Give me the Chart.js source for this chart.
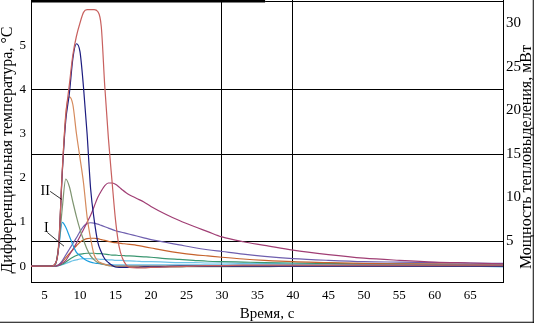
<!DOCTYPE html>
<html lang="ru">
<head>
<meta charset="UTF-8">
<title>Дифференциальная температура и мощность тепловыделения</title>
<script src="https://cdn.jsdelivr.net/npm/chart.js"></script>
<style>
  body { margin: 0; background: #fff; }
  canvas { display: block; }
</style>
</head>
<body>
<canvas id="thermo" width="534" height="323"></canvas>
<script>
// время, с
const time = [3.1, 5, 6, 6.5, 7, 7.5, 8, 8.5, 9, 9.5, 10, 10.5, 11, 11.5, 12, 12.5, 13, 13.5, 14, 14.5,
  15, 15.5, 16, 16.5, 17, 18, 19, 20, 22, 24, 26, 28, 30, 33, 36, 40, 45, 50, 55, 60, 65, 69.6];

// узкие пики дифференциальной температуры, °C
const peakRed = [0, 0, 0, 0.05, 0.45, 2.15, 3.4, 4.1, 4.78, 5.2, 5.5, 5.74, 5.8, 5.8, 5.8, 5.76, 5.42, 4.05, 2.9, 1.95,
  1.05, 0.45, 0.17, 0.03, -0.03, -0.04, -0.04, -0.03, -0.02, -0.01, 0, 0.01, 0.01, 0.02, 0.02, 0.02, 0.02, 0.02, 0.02, 0.02, 0.02, 0.02];
const peakNavy = [0, 0, 0, 0.05, 0.45, 2.1, 3.3, 3.9, 4.7, 5.03, 4.85, 4.04, 3.0, 1.75, 1.05, 0.55, 0.32, 0.16, 0.08, 0.02,
  -0.02, -0.03, -0.03, -0.03, -0.03, -0.03, -0.02, -0.02, -0.01, 0, 0, 0, 0, 0, 0, 0, 0, 0, 0, 0, 0, 0];
const peakTan = [0, 0, 0, 0.04, 0.5, 2.1, 3.45, 3.83, 3.65, 3.0, 2.45, 1.88, 1.12, 0.62, 0.25, 0.12, 0.07, 0.04, 0.02, 0.01,
  0, 0, 0, 0, 0, 0, 0, 0, 0, 0, 0, 0, 0, 0, 0, 0, 0, 0, 0, 0, 0, 0];
const peakOlive = [0, 0, 0, 0.02, 0.45, 1.3, 1.97, 1.8, 1.45, 1.12, 0.83, 0.59, 0.38, 0.23, 0.14, 0.08, 0.05, 0.03, 0.01, 0,
  -0.01, -0.01, -0.02, -0.02, -0.02, -0.02, -0.02, -0.02, -0.02, -0.02, -0.01, -0.01, -0.01, -0.01, -0.01, 0, 0, 0, 0, 0, 0, 0];
const peakCyan = [0, 0, 0, 0.02, 0.42, 0.99, 0.88, 0.68, 0.48, 0.31, 0.24, 0.17, 0.12, 0.09, 0.07, 0.06, 0.05, 0.04, 0.03, 0.03,
  0.02, 0.02, 0.02, 0.02, 0.02, 0.02, 0.02, 0.02, 0.02, 0.02, 0.02, 0.02, 0.02, 0.02, 0.02, 0.02, 0.02, 0.02, 0.02, 0.02, 0.02, 0.02];

// широкие кривые тепловыделения
const wavePlum = [0, 0, 0, 0, 0.02, 0.07, 0.13, 0.25, 0.38, 0.52, 0.67, 0.83, 0.99, 1.15, 1.35, 1.55, 1.7, 1.82, 1.88, 1.88,
  1.85, 1.79, 1.72, 1.66, 1.61, 1.53, 1.45, 1.35, 1.18, 1.03, 0.9, 0.78, 0.66, 0.55, 0.47, 0.36, 0.26, 0.18, 0.13, 0.09, 0.07, 0.05];
const waveSlate = [0, 0, 0, 0, 0.03, 0.12, 0.25, 0.38, 0.51, 0.64, 0.78, 0.9, 0.96, 0.98, 0.97, 0.95, 0.92, 0.89, 0.86, 0.83,
  0.8, 0.78, 0.76, 0.74, 0.72, 0.68, 0.64, 0.6, 0.54, 0.48, 0.42, 0.37, 0.33, 0.27, 0.22, 0.17, 0.13, 0.1, 0.09, 0.08, 0.07, 0.06];
const waveRust = [0, 0, 0, 0, 0.03, 0.1, 0.19, 0.28, 0.37, 0.46, 0.54, 0.59, 0.62, 0.63, 0.63, 0.62, 0.6, 0.58, 0.56, 0.54,
  0.53, 0.52, 0.51, 0.5, 0.49, 0.47, 0.44, 0.41, 0.35, 0.3, 0.26, 0.23, 0.2, 0.16, 0.13, 0.1, 0.08, 0.06, 0.05, 0.05, 0.04, 0.04];
const waveTeal = [0, 0, 0, 0, 0.01, 0.04, 0.09, 0.15, 0.2, 0.24, 0.27, 0.28, 0.29, 0.29, 0.29, 0.28, 0.28, 0.27, 0.26, 0.25,
  0.25, 0.24, 0.24, 0.23, 0.23, 0.22, 0.21, 0.2, 0.17, 0.15, 0.13, 0.11, 0.1, 0.09, 0.08, 0.07, 0.06, 0.05, 0.05, 0.04, 0.04, 0.03];
const waveSky = [0, 0, 0, 0, 0.01, 0.03, 0.06, 0.09, 0.12, 0.14, 0.16, 0.17, 0.17, 0.17, 0.16, 0.16, 0.15, 0.15, 0.14, 0.14,
  0.13, 0.13, 0.13, 0.12, 0.12, 0.11, 0.1, 0.1, 0.09, 0.08, 0.08, 0.07, 0.07, 0.06, 0.06, 0.05, 0.05, 0.04, 0.04, 0.03, 0, -0.02];

// подписи осей
const timeTicks = [5, 10, 15, 20, 25, 30, 35, 40, 45, 50, 55, 60, 65];
const tempTicks = [0, 1, 2, 3, 4, 5];
const powerTicks = [5, 10, 15, 20, 25, 30];

const series = [
  [peakRed, '#c8605e'],
  [peakNavy, '#1c1c80'],
  [peakTan, '#d58a5c'],
  [peakOlive, '#7e9470'],
  [peakCyan, '#1c9fe0'],
  [wavePlum, '#a03e74'],
  [waveSlate, '#6e5eae'],
  [waveRust, '#c6622c'],
  [waveTeal, '#3a9670'],
  [waveSky, '#6cc2e6']
];

const serif = 'Liberation Serif';

// рамка, заголовки осей Y и метки I, II
const decor = {
  id: 'decor',
  afterDatasetsDraw(chart) {
    const { ctx, chartArea: a, scales } = chart;
    const x = scales.x, y = scales.y;
    ctx.save();
    ctx.strokeStyle = '#000';
    ctx.lineWidth = 2.5;
    ctx.beginPath();
    ctx.moveTo(a.left, 1.25);
    ctx.lineTo(a.left + a.width * 0.496, 1.25);
    ctx.stroke();
    ctx.lineWidth = 1;
    ctx.beginPath();
    ctx.moveTo(a.left + a.width * 0.496, 1.5);
    ctx.lineTo(a.right, 1.5);
    ctx.moveTo(chart.width - 0.75, 0);
    ctx.lineTo(chart.width - 0.75, chart.height);
    ctx.moveTo(0, chart.height - 0.75);
    ctx.lineTo(chart.width, chart.height - 0.75);
    ctx.stroke();

    ctx.fillStyle = '#000';
    ctx.textAlign = 'center';
    ctx.textBaseline = 'middle';
    ctx.font = '16px "' + serif + '"';
    ctx.save();
    ctx.translate(8, 150);
    ctx.rotate(-Math.PI / 2);
    ctx.fillText('Дифференциальная температура, °С', 0, 0);
    ctx.restore();
    ctx.save();
    ctx.translate(527, 157);
    ctx.rotate(-Math.PI / 2);
    ctx.fillText('Мощность тепловыделения, мВт', 0, 0);
    ctx.restore();

    ctx.font = '14px "' + serif + '"';
    ctx.fillText('II', x.getPixelForValue(5.1), y.getPixelForValue(1.7));
    ctx.fillText('I', x.getPixelForValue(5.25), y.getPixelForValue(0.86));
    ctx.lineWidth = 0.8;
    ctx.beginPath();
    ctx.moveTo(x.getPixelForValue(5.8), y.getPixelForValue(1.69));
    ctx.lineTo(x.getPixelForValue(7.42), y.getPixelForValue(1.51));
    ctx.moveTo(x.getPixelForValue(5.4), y.getPixelForValue(0.76));
    ctx.lineTo(x.getPixelForValue(7.75), y.getPixelForValue(0.45));
    ctx.stroke();
    ctx.restore();
  }
};

const gridAt = (values) => (c) => (c.tick && values.includes(c.tick.value)) ? '#000' : 'rgba(0,0,0,0)';

// фиксированные размеры осей, без отступов под крайние подписи
const fixSize = (w, h) => (s) => {
  if (w !== null) s.width = w;
  if (h !== null) s.height = h;
  s.paddingTop = 0; s.paddingBottom = 0; s.paddingLeft = 0; s.paddingRight = 0;
};

new Chart(document.getElementById('thermo'), {
  type: 'line',
  data: {
    datasets: series.map(([vals, color]) => ({
      data: time.map((t, i) => ({ x: t, y: vals[i] })),
      borderColor: color,
      borderWidth: 1.2,
      pointRadius: 0,
      fill: false,
      cubicInterpolationMode: 'monotone',
      yAxisID: 'y'
    }))
  },
  options: {
    responsive: false,
    animation: false,
    layout: { padding: 0 },
    plugins: { legend: { display: false }, tooltip: { enabled: false } },
    scales: {
      x: {
        type: 'linear',
        min: 3.1,
        max: 69.6,
        afterBuildTicks: (s) => { s.ticks = timeTicks.map(v => ({ value: v })); },
        afterFit: fixSize(null, 41),
        grid: { color: gridAt([30, 40]), drawTicks: false, lineWidth: 1 },
        border: { color: '#000', width: 1 },
        ticks: { color: '#000', padding: 6, maxRotation: 0, font: { family: serif, size: 13 } },
        title: { display: true, text: 'Время, с', color: '#000', padding: 0, font: { family: serif, size: 15 } }
      },
      y: {
        position: 'left',
        min: -0.36,
        max: 6.02,
        afterBuildTicks: (s) => { s.ticks = tempTicks.map(v => ({ value: v })); },
        afterFit: fixSize(31, null),
        grid: { color: gridAt([4]), drawTicks: false, lineWidth: 1 },
        border: { color: '#000', width: 1 },
        ticks: { color: '#000', padding: 5, font: { family: serif, size: 13 } }
      },
      y1: {
        position: 'right',
        min: 0.29,
        max: 32.7,
        afterBuildTicks: (s) => { s.ticks = powerTicks.map(v => ({ value: v })); },
        afterFit: fixSize(31, null),
        grid: { color: gridAt([5, 15]), drawTicks: false, lineWidth: 1 },
        border: { color: '#000', width: 1 },
        ticks: { color: '#000', padding: 3, font: { family: serif, size: 15 } }
      }
    }
  },
  plugins: [decor]
});
</script>
</body>
</html>
